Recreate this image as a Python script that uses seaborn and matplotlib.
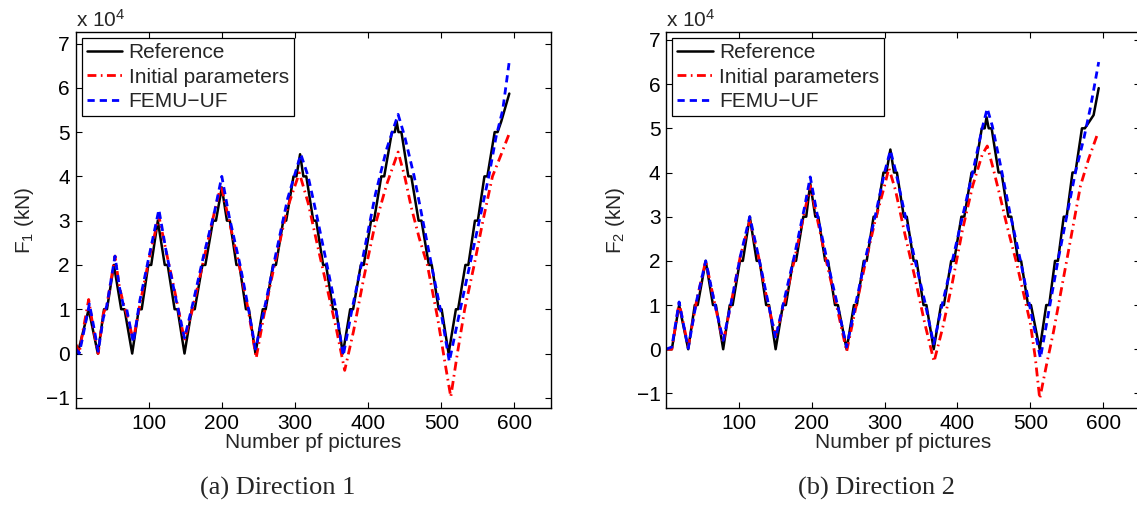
import seaborn as sns
import matplotlib
import matplotlib.pyplot as plt
import pandas as pd

# Estilo base, luego ajustamos a mano para que parezca una figura de MATLAB
sns.set_theme(style="ticks")
plt.rcParams['font.family'] = ['Liberation Sans', 'DejaVu Sans']
plt.rcParams['mathtext.fontset'] = 'custom'
plt.rcParams['mathtext.rm'] = 'Liberation Sans'
plt.rcParams['mathtext.it'] = 'Liberation Sans:italic'

# ---- Dirección 1 (valores en unidades de 1e4 kN) ----
ref1_x = [0, 3, 18, 30.5, 39, 43, 52.5, 62.5, 67, 77.5, 86.5, 90.5, 99.5, 103.5, 112.5,
          122, 126, 135.5, 139.5, 149, 159, 163, 173.5, 177.5, 188, 192, 200,
          207, 211, 220, 224, 233, 237, 246, 256, 260, 270, 274, 284, 288, 298, 302, 307,
          311.5, 315.5, 325, 329, 338.5, 342.5, 352, 356, 365.5,
          375.5, 379.5, 390, 394, 404, 408, 418, 422, 432.5, 436.5, 439,
          441.5, 445.5, 455, 459, 469, 473, 483, 487, 496.5, 500.5, 510,
          520, 523, 533, 537, 546, 550, 559, 563, 573, 577, 582, 593]
ref1_y = [0, 0, 1, 0, 1, 1, 2, 1, 1, 0, 1, 1, 2, 2, 3,
          2, 2, 1, 1, 0, 1, 1, 2, 2, 3, 3, 3.75,
          3, 3, 2, 2, 1, 1, 0, 1, 1, 2, 2, 3, 3, 4, 4, 4.5,
          4, 4, 3, 3, 2, 2, 1, 1, 0,
          1, 1, 2, 2, 3, 3, 4, 4, 5, 5, 5.24,
          5, 5, 4, 4, 3, 3, 2, 2, 1, 1, 0,
          1, 1, 2, 2, 3, 3, 4, 4, 5, 5, 5.24, 5.87]

ini1_x = [1, 5, 9, 18, 24, 31, 38, 43, 54, 60, 66, 70, 79, 88, 100, 114, 124, 137, 149,
          160, 175, 190, 199, 210, 225, 236, 247, 258, 272, 290, 306, 318, 330, 345, 356, 368,
          380, 394, 408, 425, 441, 450, 459, 470, 481, 495, 505, 513,
          522, 532, 545, 557, 570, 582, 593]
ini1_y = [0.2, 0.0, 0.4, 1.22, 0.6, 0.0, 0.9, 1.1, 2.2, 1.5, 1.1, 0.9, 0.3, 1.1, 2.1, 3.1, 2.3, 1.3, 0.3,
          1.0, 2.1, 3.2, 3.8, 3.0, 1.9, 1.0, -0.1, 0.9, 2.0, 3.3, 4.08, 3.4, 2.5, 1.4, 0.6, -0.38,
          0.5, 1.7, 2.8, 3.8, 4.55, 4.0, 3.3, 2.6, 2.0, 0.8, -0.2, -0.98,
          0.0, 1.0, 2.0, 3.0, 4.0, 4.5, 4.97]

femu1_x = [1, 5, 9, 19, 25, 31, 38, 43, 54, 60, 66, 70, 79, 88, 100, 114, 124, 137, 149,
           160, 175, 190, 200, 210, 225, 236, 246, 258, 272, 290, 308, 318, 330, 345, 356, 366,
           378, 392, 410, 425, 441, 450, 463, 476, 489, 500, 511,
           526, 539, 552, 565, 575, 584, 593]
femu1_y = [0.1, 0.0, 0.3, 1.12, 0.6, 0.05, 0.8, 1.1, 2.2, 1.5, 1.05, 1.0, 0.25, 1.2, 2.15, 3.25, 2.3, 1.25, 0.35,
           1.1, 2.2, 3.2, 4.0, 3.1, 2.0, 1.05, 0.1, 1.0, 2.1, 3.5, 4.5, 4.0, 3.1, 1.9, 1.0, -0.05,
           1.0, 2.1, 3.6, 4.6, 5.4, 4.9, 4.0, 2.9, 1.8, 0.9, -0.18,
           1.0, 2.0, 3.0, 4.0, 4.9, 5.5, 6.6]

# ---- Dirección 2 ----
ref2_x = [0, 8, 18, 30.5, 39.5, 43.5, 54.5, 64.5, 68.5, 78.5, 87.5, 91.5, 101.5, 105.5, 115,
          124.5, 128.5, 137.5, 141.5, 150.5, 160.5, 164.5, 174.5, 178.5, 188.5, 192.5, 198,
          205, 209, 218.5, 222.5, 232, 236, 248, 258, 262, 271.5, 275.5, 285, 289, 298.5, 302.5, 308,
          313, 317, 326.5, 330.5, 340, 344, 353.5, 357.5, 367.5,
          377.5, 381.5, 391.5, 395.5, 405.5, 409.5, 419.5, 423.5, 433.5, 437.5, 440,
          443, 447, 456.5, 460.5, 470, 474, 483.5, 487.5, 497, 501, 513,
          522, 526, 534, 538, 546, 550, 558, 562, 571, 575, 587, 594]
ref2_y = [0, 0, 1, 0, 1, 1, 2, 1, 1, 0, 1, 1, 2, 2, 3,
          2, 2, 1, 1, 0, 1, 1, 2, 2, 3, 3, 3.75,
          3, 3, 2, 2, 1, 1, 0, 1, 1, 2, 2, 3, 3, 4, 4, 4.52,
          4, 4, 3, 3, 2, 2, 1, 1, 0,
          1, 1, 2, 2, 3, 3, 4, 4, 5, 5, 5.25,
          5, 5, 4, 4, 3, 3, 2, 2, 1, 1, 0,
          1, 1, 2, 2, 3, 3, 4, 4, 5, 5, 5.3, 5.91]

ini2_x = [0, 8, 18, 30.5, 42, 54.5, 66, 78.5, 90, 102, 115, 127, 139, 150.5,
          162, 176, 190, 198, 207, 220, 234, 248, 260, 273, 287, 300, 306, 315, 328, 342, 355, 368,
          380, 393, 407, 421, 434, 441, 449, 458, 468, 482, 500, 507, 513,
          523, 532, 550, 569, 580, 593]
ini2_y = [0.0, 0.0, 1.05, 0.05, 1.1, 2.0, 1.1, 0.15, 1.1, 2.1, 2.9, 2.1, 1.1, 0.3,
          1.0, 2.0, 3.1, 3.7, 3.0, 2.0, 1.0, -0.05, 0.9, 1.9, 2.9, 3.7, 4.1, 3.6, 2.6, 1.6, 0.6, -0.28,
          0.5, 1.5, 2.7, 3.7, 4.4, 4.6, 4.1, 3.5, 2.8, 1.9, 0.6, -0.2, -1.12,
          -0.3, 0.4, 2.0, 3.7, 4.3, 4.9]

femu2_x = [0, 8, 18, 30.5, 42, 54.5, 66, 78.5, 90, 102, 115, 127, 139, 150.5,
           162, 176, 190, 198, 207, 220, 234, 248, 260, 273, 287, 300, 308, 315, 328, 342, 355, 367.5,
           379, 393, 407, 421, 434, 441, 448, 460, 472, 486, 499, 514,
           527, 538, 550, 562, 574, 583, 594]
femu2_y = [0.0, 0.05, 1.07, 0.02, 1.1, 2.0, 1.1, 0.2, 1.1, 2.1, 3.0, 2.1, 1.15, 0.25,
           1.1, 2.1, 3.2, 3.9, 3.1, 2.1, 1.1, 0.05, 1.0, 2.0, 3.0, 4.0, 4.5, 4.05, 3.05, 2.0, 1.1, 0.12,
           1.0, 2.0, 3.0, 4.0, 5.0, 5.45, 5.05, 4.1, 3.1, 2.05, 1.0, -0.2,
           1.0, 2.0, 3.0, 4.0, 4.8, 5.5, 6.5]

etiquetas = ['Reference', 'Initial parameters', 'FEMU\u2212UF']
paneles = [
    dict(series=[(ref1_x, ref1_y), (ini1_x, ini1_y), (femu1_x, femu1_y)],
         ylabel=r'$\mathregular{F_1}$ (kN)', ylim=(-1.23, 7.26), caption='(a) Direction 1'),
    dict(series=[(ref2_x, ref2_y), (ini2_x, ini2_y), (femu2_x, femu2_y)],
         ylabel=r'$\mathregular{F_2}$ (kN)', ylim=(-1.33, 7.18), caption='(b) Direction 2'),
]
# Estilos de línea: referencia negra, inicial rojo punto-raya, FEMU azul discontinuo
estilos = [
    dict(color='black', lw=1.8, dashes=None),
    dict(color='#ff0000', lw=2.0, dashes=(3.2, 1.6, 0.6, 1.6)),
    dict(color='#0000ff', lw=2.0, dashes=(2.6, 1.8)),
]

FS = 15
W, H = 1137, 507
fig = plt.figure(figsize=(W / 100, H / 100), dpi=100)
# posiciones de los ejes en pixeles: (izq, der) ; arriba 32, abajo 408
pos_px = [(75.5, 551), (666, 1139.5)]
cap_x = [278, 876]

for panel, (x0, x1), cx in zip(paneles, pos_px, cap_x):
    ax = fig.add_axes([x0 / W, 1 - 408 / H, (x1 - x0) / W, (408 - 32) / H])
    for (xs, ys), lab, st in zip(panel['series'], etiquetas, estilos):
        df = pd.DataFrame({'x': xs, 'y': ys})
        sns.lineplot(df, x='x', y='y', ax=ax, color=st['color'], lw=st['lw'],
                     sort=False, estimator=None, label=lab)
        if st['dashes'] is not None:
            ax.lines[-1].set_dashes(st['dashes'])
    ax.set_xlim(0, 650)
    ax.set_ylim(*panel['ylim'])
    ax.set_xticks([100, 200, 300, 400, 500, 600])
    ax.set_yticks(range(-1, 8))
    ax.set_yticklabels(['\u22121'] + [str(v) for v in range(0, 8)])
    ax.tick_params(direction='in', top=True, right=True, length=4, width=0.8,
                   labelsize=FS, colors='black', pad=4)
    for s in ax.spines.values():
        s.set_visible(True)
        s.set_linewidth(1.0)
        s.set_color('black')
    ax.set_xlabel('Number pf pictures', fontsize=FS, labelpad=0)
    ax.set_ylabel(panel['ylabel'], fontsize=FS, labelpad=7)
    ax.text(0.0, 1.004, r'x $10^{4}$', transform=ax.transAxes, ha='left', va='bottom',
            fontsize=FS)
    leg = ax.legend(loc='upper left', fontsize=FS, frameon=True, fancybox=False,
                    edgecolor='black', framealpha=1, borderaxespad=0.3, borderpad=0.25,
                    handlelength=1.7, handletextpad=0.3, labelspacing=0.25)
    leg.get_frame().set_linewidth(0.9)
    fig.text(cx / W, 1 - 488 / H, panel['caption'], ha='center', va='center',
             family=['Liberation Serif', 'DejaVu Serif'], fontsize=19)

fig.savefig('out.png', dpi=100)
